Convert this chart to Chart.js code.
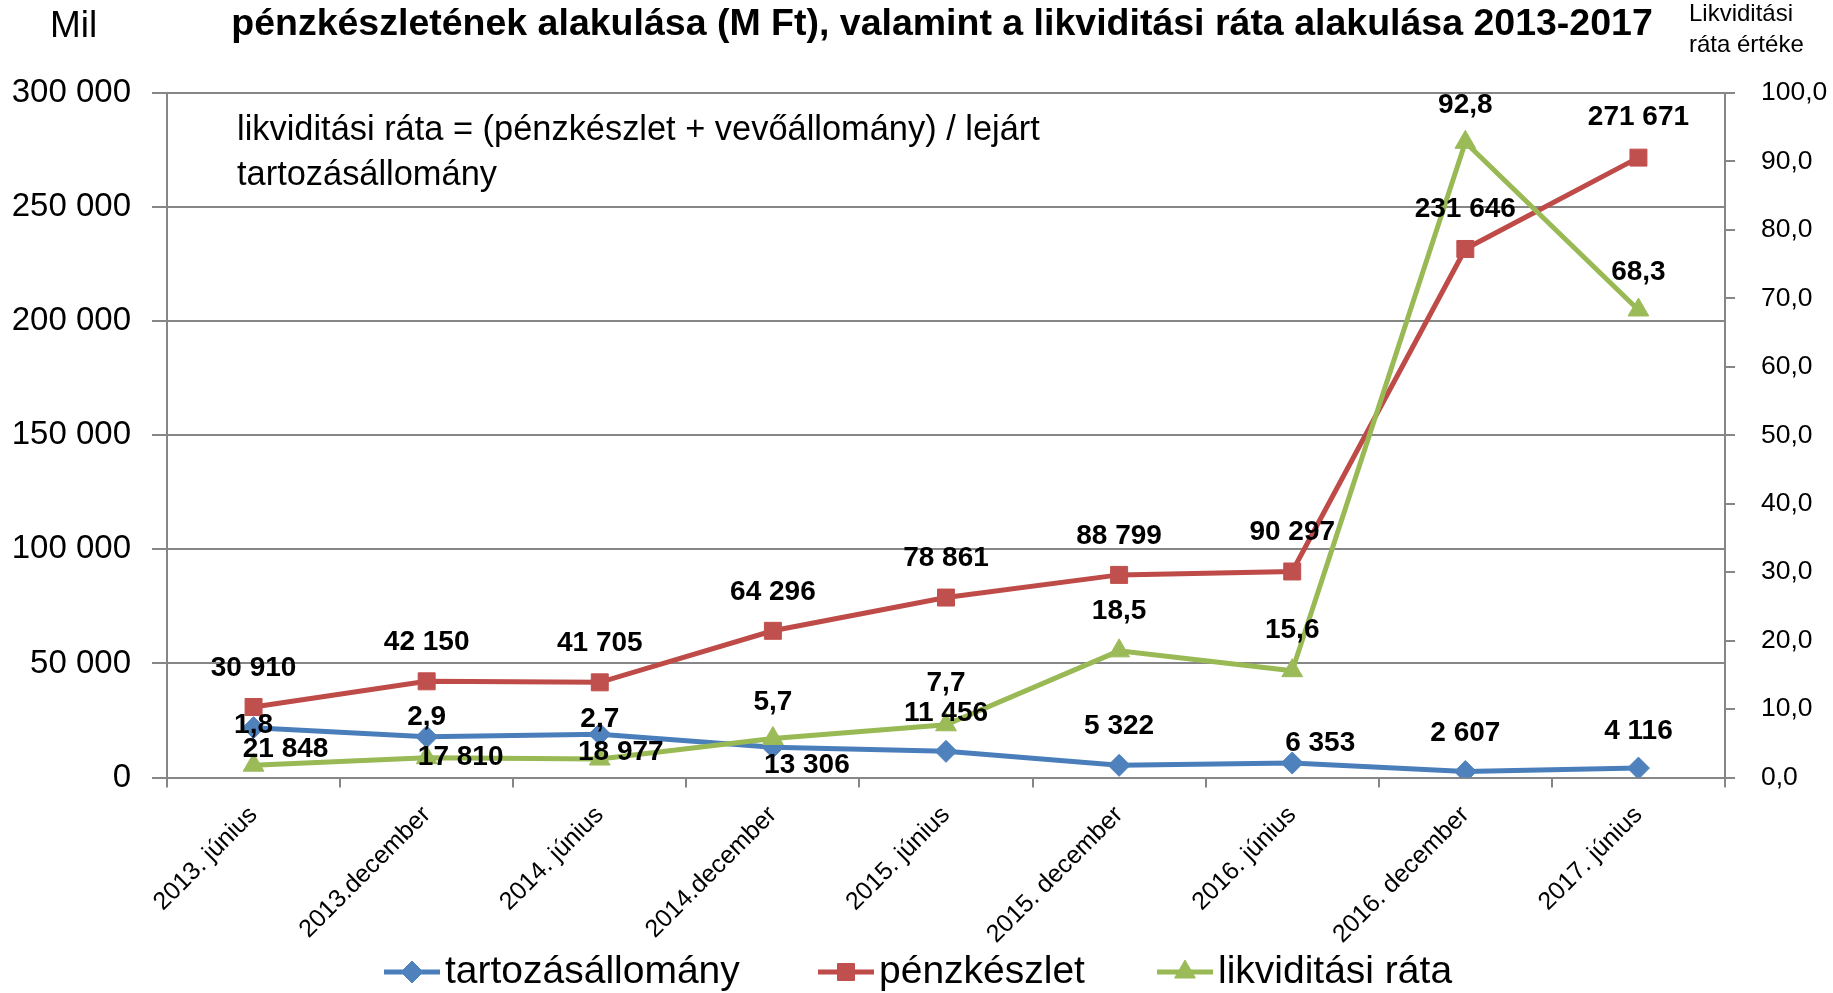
<!DOCTYPE html>
<html>
<head>
<meta charset="utf-8">
<script src="https://cdn.jsdelivr.net/npm/chart.js@4.4.1/dist/chart.umd.min.js"></script>
<style>
  html, body { margin: 0; padding: 0; background: #fff; }
  #wrap { position: relative; width: 1833px; height: 993px; }
</style>
</head>
<body>
<div id="wrap"><canvas id="c"></canvas></div>
<script>
// ---- data ----
const categories = ['2013. június', '2013.december', '2014. június', '2014.december', '2015. június', '2015. december', '2016. június', '2016. december', '2017. június'];
const tartozasallomany = [21848, 17810, 18977, 13306, 11456, 5322, 6353, 2607, 4116];
const penzkeszlet = [30910, 42150, 41705, 64296, 78861, 88799, 90297, 231646, 271671];
const likviditasiRata = [1.8, 2.9, 2.7, 5.7, 7.7, 18.5, 15.6, 92.8, 68.3];
const seriesNames = ['tartozásállomány', 'pénzkészlet', 'likviditási ráta'];
const leftTicks = [0, 50000, 100000, 150000, 200000, 250000, 300000];
const rightTicks = [0, 10, 20, 30, 40, 50, 60, 70, 80, 90, 100];
const titleText = 'pénzkészletének alakulása (M Ft), valamint a likviditási ráta alakulása 2013-2017';
const leftUnitText = 'Mil';
const rightUnitLines = ['Likviditási', 'ráta értéke'];
const noteLines = ['likviditási ráta = (pénzkészlet + vevőállomány) / lejárt', 'tartozásállomány'];

// ---- style (label offsets in px, not data) ----
const FONT = "'Liberation Sans', Arial, sans-serif";
const GRID = '#868686';
const colors = {
  blueLine: '#4A7EBB', blueFill: '#4F81BD',
  redLine: '#BE4B48', redFill: '#C0504D',
  greenLine: '#98B954', greenFill: '#9BBB59'
};
const labelOffsets = [
  [[32, 22], [34, 20], [21, 18], [34, 18], [0, -38], [0, -39], [28, -20], [0, -38], [0, -37]],
  [[0, -39], [0, -39], [0, -39], [0, -39], [0, -39], [0, -39], [0, -39], [0, -40], [0, -40]],
  [[0, -40], [0, -40], [0, -40], [0, -36], [0, -42], [0, -40], [0, -40], [0, -37], [0, -38]]
];

function fmtThousands(n) {
  return String(Math.round(n)).replace(/\B(?=(\d{3})+(?!\d))/g, ' ');
}
function fmtDec(v) {
  return v.toFixed(1).replace('.', ',');
}

const labelPlugin = {
  id: 'labels',
  afterDatasetsDraw(chart) {
    const ctx = chart.ctx;
    ctx.save();
    ctx.font = 'bold 28px ' + FONT;
    ctx.fillStyle = '#000';
    ctx.textAlign = 'center';
    ctx.textBaseline = 'middle';
    chart.data.datasets.forEach((ds, di) => {
      const meta = chart.getDatasetMeta(di);
      meta.data.forEach((pt, i) => {
        const v = ds.data[i];
        const txt = di === 2 ? fmtDec(v) : fmtThousands(v);
        const off = labelOffsets[di][i];
        ctx.fillText(txt, pt.x + off[0], pt.y + off[1]);
      });
    });
    ctx.restore();
  }
};

const decorPlugin = {
  id: 'decor',
  afterDraw(chart) {
    const ctx = chart.ctx;
    ctx.save();
    ctx.fillStyle = '#000';
    ctx.textBaseline = 'middle';
    // left unit
    ctx.font = '37px ' + FONT;
    ctx.textAlign = 'left';
    ctx.fillText(leftUnitText, 50, 27);
    // title
    ctx.font = 'bold 37.5px ' + FONT;
    ctx.textAlign = 'center';
    ctx.fillText(titleText, 942, 25);
    // right unit
    ctx.font = '24px ' + FONT;
    ctx.textAlign = 'left';
    ctx.fillText(rightUnitLines[0], 1689, 14);
    ctx.fillText(rightUnitLines[1], 1689, 45);
    // note
    ctx.font = '34.4px ' + FONT;
    ctx.fillText(noteLines[0], 237, 131);
    ctx.fillText(noteLines[1], 237, 176);
    // legend
    const items = [
      { x: 384, ds: 0 },
      { x: 818, ds: 1 },
      { x: 1157, ds: 2 }
    ];
    const ly = 972;
    items.forEach(it => {
      const ds = chart.data.datasets[it.ds];
      ctx.strokeStyle = ds.borderColor;
      ctx.lineWidth = 5;
      ctx.beginPath();
      ctx.moveTo(it.x, ly);
      ctx.lineTo(it.x + 56, ly);
      ctx.stroke();
      ctx.fillStyle = ds.pointBackgroundColor;
      ctx.strokeStyle = ds.pointBorderColor;
      ctx.lineWidth = 1;
      Chart.helpers.drawPoint(ctx, { pointStyle: ds.pointStyle, radius: ds.pointRadius, rotation: 0, borderWidth: 1 }, it.x + 28, ly);
      ctx.fillStyle = '#000';
      ctx.font = '39px ' + FONT;
      ctx.textAlign = 'left';
      ctx.fillText(ds.label, it.x + 61, ly);
    });
    ctx.restore();
  }
};

const ctx = document.getElementById('c').getContext('2d');
new Chart(ctx, {
  type: 'line',
  data: {
    labels: categories,
    datasets: [
      {
        label: seriesNames[0], data: tartozasallomany, yAxisID: 'y',
        borderColor: colors.blueLine, backgroundColor: colors.blueFill,
        pointBackgroundColor: colors.blueFill, pointBorderColor: colors.blueFill,
        pointStyle: 'rectRot', pointRadius: 11, pointBorderWidth: 1,
        borderWidth: 5, tension: 0, order: 3
      },
      {
        label: seriesNames[1], data: penzkeszlet, yAxisID: 'y',
        borderColor: colors.redLine, backgroundColor: colors.redFill,
        pointBackgroundColor: colors.redFill, pointBorderColor: colors.redFill,
        pointStyle: 'rect', pointRadius: 12, pointBorderWidth: 1,
        borderWidth: 5, tension: 0, order: 2
      },
      {
        label: seriesNames[2], data: likviditasiRata, yAxisID: 'y1',
        borderColor: colors.greenLine, backgroundColor: colors.greenFill,
        pointBackgroundColor: colors.greenFill, pointBorderColor: colors.greenFill,
        pointStyle: 'triangle', pointRadius: 12, pointBorderWidth: 1,
        borderWidth: 5, tension: 0, order: 1
      }
    ]
  },
  options: {
    responsive: true,
    maintainAspectRatio: false,
    animation: false,
    devicePixelRatio: 1,
    layout: { padding: { top: 93, left: 0, right: 0, bottom: 0 } },
    plugins: {
      legend: { display: false },
      title: { display: false },
      tooltip: { enabled: false }
    },
    scales: {
      x: {
        type: 'category',
        offset: true,
        grid: { offset: true, drawOnChartArea: false, drawTicks: true, tickLength: 10, color: GRID, lineWidth: 2 },
        border: { color: GRID, width: 2 },
        ticks: { autoSkip: false, maxRotation: 45, minRotation: 45, padding: 13, color: '#000', font: { family: FONT, size: 25 } },
        afterFit(s) { s.height = 215.5; }
      },
      y: {
        position: 'left',
        min: 0, max: 300000,
        afterBuildTicks(s) { s.ticks = leftTicks.map(v => ({ value: v })); },
        grid: { color: GRID, lineWidth: 2, drawTicks: true, tickLength: 15 },
        border: { color: GRID, width: 2 },
        ticks: { padding: 21, color: '#000', font: { family: FONT, size: 33 }, callback: v => fmtThousands(v) },
        afterFit(s) { s.width = 167; }
      },
      y1: {
        position: 'right',
        min: 0, max: 100,
        afterBuildTicks(s) { s.ticks = rightTicks.map(v => ({ value: v })); },
        grid: { color: GRID, lineWidth: 2, drawOnChartArea: false, drawTicks: true, tickLength: 10 },
        border: { color: GRID, width: 2 },
        ticks: { padding: 26, color: '#000', font: { family: FONT, size: 26.5 }, callback: v => fmtDec(v) },
        afterFit(s) { s.width = 108; }
      }
    }
  },
  plugins: [labelPlugin, decorPlugin]
});
</script>
</body>
</html>
